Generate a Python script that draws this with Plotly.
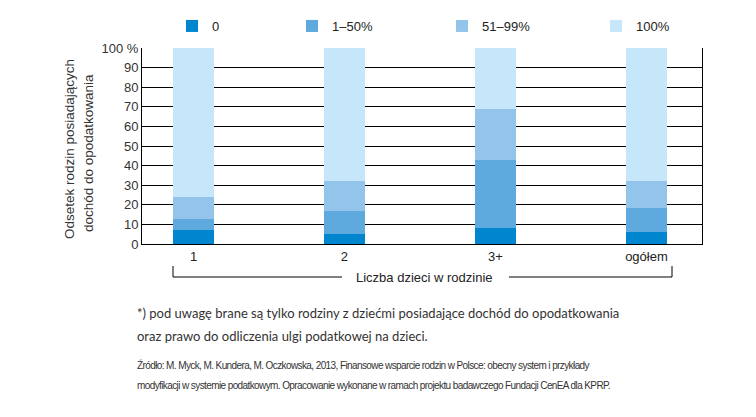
import plotly.graph_objects as go

# data
categories = ["1", "2", "3+", "ogółem"]
share_0 = [7, 5, 8, 6.3]
share_1_50 = [6, 12, 35, 12.2]
share_51_99 = [11, 15, 26, 13.8]
share_100 = [76, 68, 31, 67.7]
series_names = ["0", "1‒50%", "51‒99%", "100%"]
colors = ["#0086CE", "#5EA9DD", "#93C5EB", "#C6E7FA"]
y_ticks = [0, 10, 20, 30, 40, 50, 60, 70, 80, 90, 100]
y_ticktext = ["0", "10", "20", "30", "40", "50", "60", "70", "80", "90", "100 %"]

# the page body has an 8px margin, so the figure is drawn 8px in
OFF = 8
W, H = 756 - OFF, 417 - OFF
L, R, T, B = 142 - OFF, 54, 48 - OFF, 173
PW, PH = W - L - R, H - T - B


def px_x(x):
    return (x - OFF - L) / PW


def px_y(y):
    return (H - B - (y - OFF)) / PH


fig = go.Figure()
legend_ids = ["legend", "legend2", "legend3", "legend4"]
legend_x = [186, 306, 456, 610]
for vals, name, col, lg in zip([share_0, share_1_50, share_51_99, share_100],
                               series_names, colors, legend_ids):
    fig.add_trace(go.Bar(x=categories, y=vals, name=name, marker_color=col,
                         marker_line_width=0, width=0.27, legend=lg))

font = "Liberation Sans, Arial, sans-serif"
legend_layout = {}
for lg, lx in zip(legend_ids, legend_x):
    legend_layout[lg] = dict(x=px_x(lx - 14), y=px_y(26), xanchor="left", yanchor="middle",
                             xref="paper", yref="paper", bgcolor="rgba(0,0,0,0)",
                             font=dict(family=font, size=13, color="#222"),
                             itemclick=False, itemdoubleclick=False)

fig.update_layout(
    width=W, height=H,
    margin=dict(l=L, r=R, t=T, b=B, autoexpand=False),
    paper_bgcolor="white", plot_bgcolor="white",
    barmode="stack", showlegend=True,
    font=dict(family=font, size=13, color="#333"),
    **legend_layout,
)
fig.update_xaxes(type="category", range=[-0.341, 3.368], showgrid=False,
                 showline=True, linecolor="black", linewidth=1,
                 ticks="", tickfont=dict(size=13, color="#222"))
fig.update_yaxes(range=[0, 100], tickvals=y_ticks, ticktext=y_ticktext,
                 showgrid=True, gridcolor="black", gridwidth=1,
                 showline=True, mirror=True, linecolor="black", linewidth=1,
                 zeroline=False, ticks="", tickfont=dict(size=13, color="#333"))

# bracket under the category labels
line = dict(color="black", width=1)
for x0, y0, x1, y1 in [(173, 266, 173, 277), (173, 277, 342, 277),
                       (509, 277, 672, 277), (672, 277, 672, 266)]:
    fig.add_shape(type="line", xref="paper", yref="paper",
                  x0=px_x(x0), y0=px_y(y0), x1=px_x(x1), y1=px_y(y1), line=line)

note_font = dict(family="Lato, sans-serif", size=13, color="#333")
src_style = '<span style="letter-spacing:-0.6px">%s</span>'
src_font = dict(family=font, size=10, color="#333")
annos = [
    dict(text="Liczba dzieci w rodzinie", x=px_x(424.5), y=px_y(277),
         xanchor="center", yanchor="middle", font=dict(size=13, color="#222")),
    dict(text="Odsetek rodzin posiadających", x=px_x(69), y=px_y(149), textangle=-90,
         xanchor="center", yanchor="middle", font=dict(size=13.5, color="#333")),
    dict(text="dochód do opodatkowania", x=px_x(88), y=px_y(153), textangle=-90,
         xanchor="center", yanchor="middle", font=dict(size=13.5, color="#333")),
    dict(text="*) pod uwagę brane są tylko rodziny z dziećmi posiadające dochód do opodatkowania",
         x=px_x(135), y=px_y(313), xanchor="left", yanchor="middle", font=note_font),
    dict(text="oraz prawo do odliczenia ulgi podatkowej na dzieci.",
         x=px_x(135), y=px_y(336), xanchor="left", yanchor="middle", font=note_font),
    dict(text=src_style % ("Źródło: M. Myck, M. Kundera, M. Oczkowska, 2013, Finansowe wsparcie "
                           "rodzin w Polsce: obecny system i przykłady"),
         x=px_x(135), y=px_y(365), xanchor="left", yanchor="middle", font=src_font),
    dict(text=src_style % ("modyfikacji w systemie podatkowym. Opracowanie wykonane w ramach "
                           "projektu badawczego Fundacji CenEA dla KPRP."),
         x=px_x(135), y=px_y(385), xanchor="left", yanchor="middle", font=src_font),
]
for a in annos:
    fig.add_annotation(xref="paper", yref="paper", showarrow=False, **a)

fig.write_html("out.html")
